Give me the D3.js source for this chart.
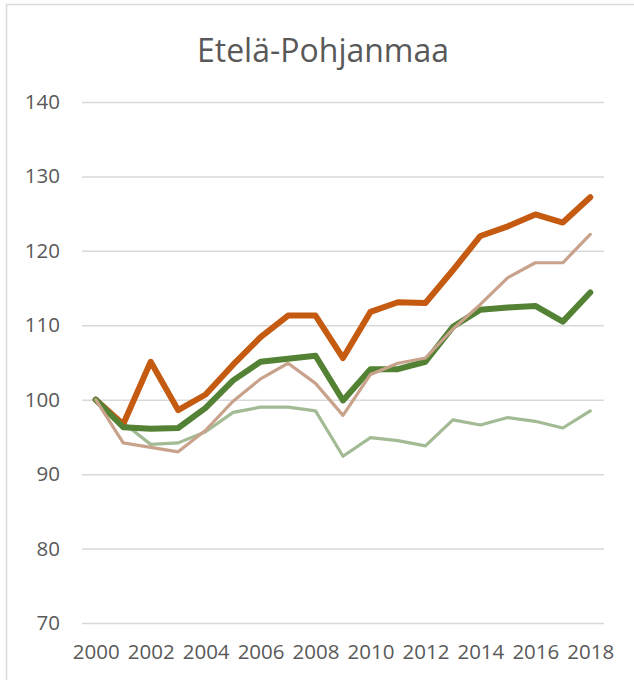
<!DOCTYPE html>
<html>
<head>
<meta charset="utf-8">
<script src="https://cdn.jsdelivr.net/npm/d3@7"></script>
<style>
  html, body { margin: 0; padding: 0; background: #fff; }
  svg { display: block; }
</style>
</head>
<body>
<div id="chart"></div>
<script>
// ── Data ──────────────────────────────────────────────────────────────────
const years = d3.range(2000, 2019);
const yTicks = [70, 80, 90, 100, 110, 120, 130, 140];
const xTickLabels = [2000, 2002, 2004, 2006, 2008, 2010, 2012, 2014, 2016, 2018];

const seriesOrange = [100, 96.7, 105.1, 98.6, 100.7, 104.7, 108.4, 111.3, 111.3, 105.6,
                      111.8, 113.1, 113.0, 117.4, 122.0, 123.3, 124.9, 123.8, 127.2];
const seriesGreen  = [100, 96.3, 96.1, 96.2, 98.9, 102.6, 105.1, 105.5, 105.9, 99.9,
                      104.1, 104.1, 105.1, 109.8, 112.1, 112.4, 112.6, 110.5, 114.4];
const seriesTan    = [100, 94.2, 93.6, 93.0, 95.9, 99.8, 102.8, 104.9, 102.2, 97.9,
                      103.4, 104.9, 105.6, 109.5, 112.8, 116.4, 118.4, 118.4, 122.2];
const seriesPale   = [100, 96.9, 94.0, 94.2, 95.7, 98.3, 99.0, 99.0, 98.5, 92.4,
                      94.9, 94.5, 93.8, 97.3, 96.6, 97.6, 97.1, 96.2, 98.5];

// drawing order: back → front
const series = [
  { values: seriesPale,   color: '#a3bb95', width: 3.2 },
  { values: seriesOrange, color: '#c55a11', width: 6 },
  { values: seriesGreen,  color: '#548235', width: 6 },
  { values: seriesTan,    color: '#c9a28c', width: 3.2 }
];

// ── Layout ────────────────────────────────────────────────────────────────
const W = 634, H = 680;
const plot = { left: 82, right: 604, top: 102, bottom: 623 };
const FONT = '"Open Sans", sans-serif';
const TEXT = '#595959';

const svg = d3.select('#chart').append('svg')
  .attr('width', W).attr('height', H);

// chart frame (only top/left edges visible in crop)
svg.append('rect')
  .attr('x', 6.5).attr('y', 4.5)
  .attr('width', W + 20).attr('height', H + 20)
  .attr('fill', '#fff')
  .attr('stroke', '#d9d9d9')
  .attr('stroke-width', 1.5);

const x = d3.scalePoint()
  .domain(years)
  .range([plot.left, plot.right])
  .padding(0.5);

const y = d3.scaleLinear()
  .domain([70, 140])
  .range([plot.bottom, plot.top]);

// Title
svg.append('text')
  .attr('x', 323).attr('y', 62)
  .attr('text-anchor', 'middle')
  .attr('font-family', FONT)
  .attr('font-size', '32px')
  .attr('fill', TEXT)
  .text('Etelä-Pohjanmaa');

// Gridlines + y labels
const yAxis = d3.axisLeft(y)
  .tickValues(yTicks)
  .tickSize(-(plot.right - plot.left))
  .tickPadding(22);

svg.append('g')
  .attr('transform', `translate(${plot.left},0)`)
  .call(yAxis)
  .call(g => g.select('.domain').remove())
  .call(g => g.selectAll('.tick line')
    .attr('stroke', '#d9d9d9')
    .attr('stroke-width', 1.5))
  .call(g => g.selectAll('.tick text')
    .attr('font-family', FONT)
    .attr('font-size', '20.5px')
    .attr('fill', TEXT));

// x labels
const xAxis = d3.axisBottom(x)
  .tickValues(xTickLabels)
  .tickSize(0)
  .tickPadding(21)
  .tickFormat(d3.format('d'));

svg.append('g')
  .attr('transform', `translate(0,${plot.bottom})`)
  .call(xAxis)
  .call(g => g.select('.domain').remove())
  .call(g => g.selectAll('.tick text')
    .attr('font-family', FONT)
    .attr('font-size', '20.5px')
    .attr('fill', TEXT));

// Lines
const line = d3.line()
  .x((d, i) => x(years[i]))
  .y(d => y(d));

svg.append('g')
  .selectAll('path')
  .data(series)
  .join('path')
  .attr('d', d => line(d.values))
  .attr('fill', 'none')
  .attr('stroke', d => d.color)
  .attr('stroke-width', d => d.width)
  .attr('stroke-linejoin', 'round')
  .attr('stroke-linecap', 'round');
</script>
</body>
</html>
